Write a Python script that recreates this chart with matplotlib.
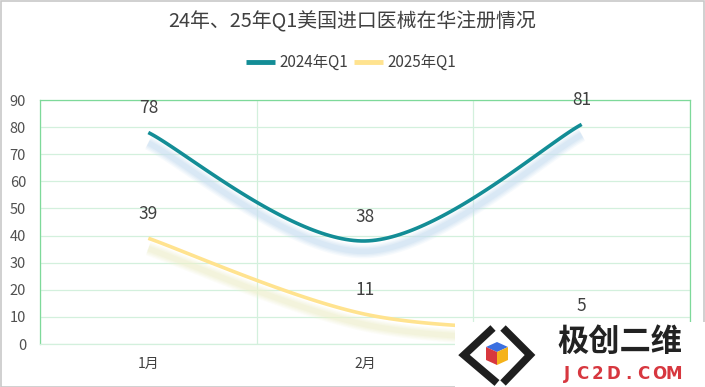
import numpy as np
import matplotlib
matplotlib.use("Agg")
import matplotlib.pyplot as plt
from matplotlib.patches import Rectangle, Polygon
from matplotlib.lines import Line2D
import matplotlib.transforms as mtransforms

plt.rcParams['font.family'] = ['Noto Sans CJK SC', 'DejaVu Sans']

title = "24年、25年Q1美国进口医械在华注册情况"
categories = ["1月", "2月", "3月"]
series_names = ["2024年Q1", "2025年Q1"]
values_2024 = [78, 38, 81]
values_2025 = [39, 11, 5]
yticks = [0, 10, 20, 30, 40, 50, 60, 70, 80, 90]

colors = ["#138D96", "#FFE38F"]
shadow_colors = ["#C9DEF2", "#EEF0CC"]

W, H = 705, 387
fig = plt.figure(figsize=(W / 100, H / 100), dpi=100)
ax = fig.add_axes([40 / W, (H - 344) / H, 650 / W, 244 / H])


def smooth(xs, ys, n=60):
    xs = np.asarray(xs, float)
    ys = np.asarray(ys, float)
    P = np.column_stack([xs, ys])
    Pe = np.vstack([P[0], P, P[-1]])
    out = []
    for i in range(len(P) - 1):
        p0, p1, p2, p3 = Pe[i], Pe[i + 1], Pe[i + 2], Pe[i + 3]
        c1 = p1 + (p2 - p0) / 6.0
        c2 = p2 - (p3 - p1) / 6.0
        t = np.linspace(0, 1, n)[:, None]
        seg = ((1 - t) ** 3) * p1 + 3 * ((1 - t) ** 2) * t * c1 + 3 * (1 - t) * t ** 2 * c2 + t ** 3 * p2
        out.append(seg if i == 0 else seg[1:])
    out = np.vstack(out)
    return out[:, 0], out[:, 1]


x = np.arange(len(categories))
for vals, c, sc, name in zip([values_2024, values_2025], colors, shadow_colors, series_names):
    sx, sy = smooth(x, vals)
    # blurred shadow
    tr = mtransforms.offset_copy(ax.transData, fig=fig, x=0, y=-7.5, units='points')
    for lw, a in [(10, 0.15), (8, 0.2), (6, 0.25), (4, 0.35)]:
        ax.plot(sx, sy, color=sc, lw=lw, alpha=a, transform=tr, solid_capstyle='butt', zorder=2)
    ax.plot(sx, sy, color=c, lw=2.6, label=name, solid_capstyle='butt', zorder=3)
    for xi, v in zip(x, vals):
        ax.annotate(str(v), (xi, v), xytext=(0, 17.5), textcoords='offset points',
                    ha='center', va='center', fontsize=12.5, color='#404040', zorder=4)

ax.set_xlim(-0.5, 2.5)
ax.set_ylim(0, 90)
ax.set_yticks(yticks)
ax.set_yticklabels([str(v) for v in yticks])
ax.set_xticks(x)
ax.set_xticklabels(categories)
ax.set_xticks(np.arange(-0.5, 2.51, 0.5), minor=True)
ax.tick_params(axis='both', which='both', length=0)
ax.tick_params(axis='y', pad=10, labelsize=10.5, labelcolor='#505050')
ax.tick_params(axis='x', pad=9, labelsize=10, labelcolor='#404040')
ax.grid(True, axis='y', color='#D3F0DD', lw=0.9, zorder=0)
ax.grid(True, axis='x', which='minor', color='#D3F0DD', lw=0.9, zorder=0)
for s in ['left', 'top', 'right']:
    ax.spines[s].set_color('#7ED99A')
    ax.spines[s].set_linewidth(0.9)
ax.spines['bottom'].set_color('#D3F0DD')
ax.spines['bottom'].set_linewidth(0.9)

fig.text(352 / W, 1 - 22 / H, title, ha='center', va='center', fontsize=14.3, color='#404040')

leg = fig.legend(loc='center', bbox_to_anchor=(351 / W, 1 - 63 / H), ncol=2, frameon=False,
                 fontsize=11, handlelength=1.9, handletextpad=0.3, columnspacing=0.4,
                 labelcolor='#404040')
for line in leg.get_lines():
    line.set_linewidth(3.5)

# outer border
fig.patches.append(Rectangle((0.5 / W, 0.5 / H), 1 - 1.5 / W, 1 - 1.5 / H, transform=fig.transFigure,
                             fill=False, edgecolor='#C8C8C8', lw=1.2, zorder=10))

# watermark logo box
fig.patches.append(Rectangle((455 / W, 0), 250 / W, 65 / H, transform=fig.transFigure,
                             facecolor='white', edgecolor='none', zorder=20))


def fp(px, py):
    return (px / W, 1 - py / H)


for pts in [[(493, 328), (464, 355), (497, 383)], [(503, 328), (530, 355), (503, 383)]]:
    xs = [p[0] / W for p in pts]
    ys = [1 - p[1] / H for p in pts]
    fig.lines.append(Line2D(xs, ys, transform=fig.transFigure, color='#1F1F1F', lw=5.5,
                            solid_joinstyle='miter', solid_capstyle='butt', zorder=21))
cx, cy = 497, 353
top = [fp(cx, cy - 11), fp(cx + 11, cy - 6), fp(cx, cy - 1), fp(cx - 11, cy - 6)]
lft = [fp(cx - 11, cy - 6), fp(cx, cy - 1), fp(cx, cy + 12), fp(cx - 11, cy + 7)]
rgt = [fp(cx + 11, cy - 6), fp(cx, cy - 1), fp(cx, cy + 12), fp(cx + 11, cy + 7)]
for poly, c in [(top, '#3B6FE0'), (lft, '#D8383E'), (rgt, '#F5B21A')]:
    fig.patches.append(Polygon(poly, closed=True, transform=fig.transFigure,
                               facecolor=c, edgecolor='none', zorder=22))
fig.text(620 / W, 1 - 342 / H, "极创二维", ha='center', va='center', fontsize=22.5,
         fontweight='bold', color='#222222', zorder=23)
brand = "JC2D.COM"
for i, ch in enumerate(brand):
    fig.text((567 + 15.3 * i) / W, 1 - 374 / H, ch, ha='center', va='center', fontsize=12,
             fontweight='bold', color='#D7373F', family=['DejaVu Sans'], zorder=23)

fig.savefig("out.png", dpi=100)
